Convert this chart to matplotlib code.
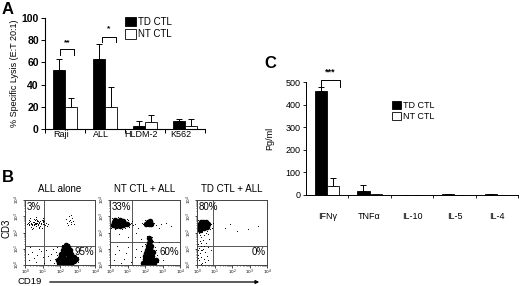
import numpy as np
import matplotlib
matplotlib.use('Agg')
import matplotlib.pyplot as plt
from matplotlib.patches import Patch, FancyArrowPatch

plt.rcParams['font.family'] = ['Liberation Sans', 'DejaVu Sans']

# ---- panel A data ----
a_cats = ['Raji', 'ALL', 'HLDM-2', 'K562']
a_td = [53, 63, 3, 7]
a_td_err = [10, 14, 4, 2]
a_nt = [20, 20, 6, 3]
a_nt_err = [8, 18, 7, 6]

# ---- panel C data ----
c_cats = ['IFN\u03b3', 'TNF\u03b1', 'IL-10', 'IL-5', 'IL-4']
c_td = [458, 18, 2, 5, 3]
c_td_err = [20, 27, 0, 0, 0]
c_nt = [42, 3, 1, 2, 2]
c_nt_err = [33, 0, 0, 0, 0]

# ---- panel B data (log10 decades) ----
b_titles = ['ALL alone', 'NT CTL + ALL', 'TD CTL + ALL']
b_quad = [(1.1, 1.2), (1.25, 1.4), (0.9, 1.2)]
b_pct_ul = ['3%', '33%', '80%']
b_pct_lr = ['95%', '60%', '0%']

b1_core = [(2.0, 0.2), (2.2, 0.15), (2.4, 0.15), (2.6, 0.2), (2.8, 0.25), (2.0, 0.45),
           (2.2, 0.4), (2.4, 0.4), (2.6, 0.45), (2.8, 0.5), (2.05, 0.7), (2.25, 0.65),
           (2.45, 0.65), (2.65, 0.7), (2.15, 0.9), (2.35, 0.9), (2.55, 0.9), (2.25, 1.1),
           (2.45, 1.1), (1.9, 0.3), (2.9, 0.35), (2.3, 0.05), (2.6, 0.05), (2.1, 0.55),
           (2.5, 0.55), (2.7, 0.35), (2.3, 0.28), (2.35, 1.25), (1.95, 0.1)]
b1_dust = [(0.15, 2.6), (0.25, 2.5), (0.3, 2.7), (0.4, 2.55), (0.45, 2.65), (0.5, 2.45),
           (0.55, 2.75), (0.6, 2.6), (0.65, 2.5), (0.7, 2.7), (0.75, 2.55), (0.8, 2.65),
           (0.85, 2.4), (0.9, 2.6), (0.95, 2.75), (1.0, 2.5), (1.05, 2.65), (1.1, 2.55),
           (1.2, 2.6), (1.3, 2.5), (0.2, 2.8), (0.35, 2.35), (0.5, 2.85), (0.6, 2.4),
           (0.7, 2.8), (0.8, 2.35), (0.9, 2.5), (1.0, 2.7), (1.15, 2.45), (0.3, 2.9),
           (0.45, 2.3), (0.55, 2.6), (0.65, 2.85), (0.75, 2.45), (0.85, 2.7), (0.95, 2.3),
           (1.05, 2.8), (0.4, 2.2), (0.6, 2.95), (0.8, 2.25), (1.0, 2.9), (0.25, 2.45),
           (0.5, 2.65), (0.7, 2.6), (0.9, 2.6), (1.1, 2.7), (1.25, 2.4), (0.35, 2.55),
           (0.55, 2.5), (0.75, 2.7), (0.12, 2.55), (0.22, 2.62), (0.42, 2.48),
           (0.32, 2.58), (0.62, 2.52), (0.72, 2.48), (0.82, 2.58), (0.52, 2.55),
           (2.4, 2.6), (2.55, 2.8), (2.6, 2.5), (2.7, 2.9), (2.5, 3.0), (2.65, 2.65),
           (2.45, 2.45), (2.75, 2.7), (2.35, 2.85), (2.8, 2.55), (2.6, 3.1), (2.5, 2.7),
           (0.2, 0.3), (0.4, 0.8), (0.6, 0.2), (0.8, 1.0), (1.0, 0.5), (1.2, 0.9),
           (1.4, 0.3), (0.3, 1.1), (0.7, 0.6), (1.1, 0.15), (1.5, 0.7), (0.5, 0.45),
           (0.9, 0.85), (1.3, 0.55), (1.6, 1.0), (0.15, 0.7), (1.7, 0.4), (1.75, 0.8),
           (1.8, 1.1), (1.65, 0.15), (2.95, 0.8), (3.0, 0.2), (2.7, 1.0), (2.1, 1.25),
           (1.85, 0.6), (2.5, 1.3), (3.05, 0.5)]
b2_core = [(0.15, 2.45), (0.35, 2.4), (0.55, 2.4), (0.75, 2.45), (0.95, 2.5), (0.2, 2.65),
           (0.4, 2.6), (0.6, 2.6), (0.8, 2.6), (0.3, 2.75), (0.55, 2.78), (0.75, 2.72),
           (0.45, 2.5), (0.65, 2.5), (0.25, 2.55), (2.05, 2.55), (2.2, 2.5), (2.35, 2.55),
           (2.15, 2.65), (2.3, 2.68), (1.9, 0.15), (2.1, 0.1), (2.3, 0.15), (2.5, 0.15),
           (2.0, 0.35), (2.2, 0.35), (2.4, 0.35), (2.6, 0.3), (2.0, 0.55), (2.2, 0.55),
           (2.4, 0.55), (2.05, 0.75), (2.25, 0.75), (2.45, 0.8), (2.1, 0.95), (2.3, 1.0),
           (2.15, 1.15), (2.35, 1.2), (2.2, 1.35), (2.3, 1.5), (2.25, 1.65)]
b2_dust = [(0.05, 2.3), (1.1, 2.35), (1.2, 2.6), (1.05, 2.8), (0.1, 2.9), (0.45, 2.95),
           (0.85, 2.25), (1.15, 2.5), (0.7, 2.2), (1.3, 2.45), (1.25, 2.7), (0.95, 2.85),
           (0.3, 2.2), (1.4, 2.55), (0.6, 2.9), (1.9, 2.5), (2.5, 2.6), (2.4, 2.4),
           (2.0, 2.75), (2.6, 2.45), (1.8, 2.6), (3.2, 2.6), (3.5, 2.4), (2.8, 2.3),
           (1.75, 1.6), (2.45, 1.5), (2.1, 1.8), (2.4, 1.75), (1.8, 1.2), (2.55, 1.1),
           (1.7, 0.5), (2.7, 0.6), (2.75, 0.2), (1.75, 0.85), (2.6, 0.95), (2.0, 1.3),
           (0.2, 0.3), (0.5, 0.9), (0.8, 0.4), (1.0, 1.1), (0.3, 0.7), (1.2, 0.2),
           (0.6, 0.15), (0.9, 0.75), (1.4, 0.5), (0.4, 1.2), (1.5, 1.0), (2.9, 2.5),
           (1.6, 2.3), (1.5, 2.0), (1.0, 1.7), (0.5, 1.9), (2.8, 1.4), (3.0, 0.3)]
b3_core = [(0.1, 2.3), (0.25, 2.25), (0.4, 2.3), (0.55, 2.35), (0.15, 2.5), (0.3, 2.45),
           (0.45, 2.5), (0.6, 2.5), (0.2, 2.65), (0.35, 2.65), (0.5, 2.62), (0.15, 2.15),
           (0.1, 2.42), (0.38, 2.38)]
b3_dust = [(0.7, 2.4), (0.75, 2.2), (0.65, 2.65), (0.8, 2.55), (0.05, 2.75), (0.45, 2.8),
           (0.3, 2.05), (0.55, 2.1), (0.85, 2.3), (0.1, 1.95), (0.4, 1.85), (0.2, 1.7),
           (0.6, 1.9), (0.15, 1.5), (0.35, 1.55), (0.5, 1.35), (0.05, 1.3), (0.25, 1.2),
           (0.7, 1.6), (0.1, 1.05), (0.3, 0.9), (0.15, 0.75), (0.45, 0.8), (0.05, 0.6),
           (0.25, 0.5), (0.4, 0.35), (0.1, 0.3), (0.3, 0.15), (0.55, 0.55), (0.2, 0.05),
           (0.6, 1.1), (0.35, 1.0), (0.2, 0.95), (0.45, 0.2), (0.05, 0.45), (0.65, 0.3),
           (0.8, 0.9), (0.15, 1.85), (0.5, 2.0), (0.9, 2.6), (1.6, 2.3), (2.3, 2.1),
           (1.9, 2.5), (2.9, 2.2), (3.5, 2.4), (0.25, 1.35), (0.4, 1.15), (0.05, 0.9)]
b_core = [b1_core, b2_core, b3_core]
b_dust = [b1_dust, b2_dust, b3_dust]

W, H = 520, 286
fig = plt.figure(figsize=(5.2, 2.86), dpi=100)


def frac(x0, y0, x1, y1):
    # pixel box (top-left origin) -> figure fraction rect
    return [x0 / W, 1 - y1 / H, (x1 - x0) / W, (y1 - y0) / H]


def bracket(ax, x0, x1, y, ydrop, txt, ty, fs):
    ax.plot([x0, x0, x1, x1], [y - ydrop, y, y, y - ydrop], color='black', lw=0.7,
            clip_on=False)
    ax.text((x0 + x1) / 2, ty, txt, ha='center', va='center', fontsize=fs,
            fontweight='bold', clip_on=False)


# ---------------- panel A ----------------
axA = fig.add_axes(frac(45, 18, 205, 129))
bw = 0.3
xa = np.arange(4) + 0.5
axA.bar(xa - bw / 2, a_td, bw, color='black', edgecolor='black', lw=0.6, zorder=2)
axA.bar(xa + bw / 2, a_nt, bw, color='white', edgecolor='black', lw=0.6, zorder=2)
axA.errorbar(xa - bw / 2, a_td, yerr=[np.zeros(4), a_td_err], fmt='none', ecolor='black',
             elinewidth=0.7, capsize=2, capthick=0.7, zorder=1)
axA.errorbar(xa + bw / 2, a_nt, yerr=[np.zeros(4), a_nt_err], fmt='none', ecolor='black',
             elinewidth=0.7, capsize=2, capthick=0.7, zorder=1)
axA.set_xlim(0, 4)
axA.set_ylim(0, 100)
axA.set_yticks([0, 20, 40, 60, 80, 100])
axA.set_xticks(xa - 0.1)
axA.set_xticklabels(a_cats, fontsize=6.5)
axA.set_xticks([0, 1, 2, 3, 4], minor=True)
axA.tick_params(axis='x', which='major', length=0, pad=1)
axA.tick_params(axis='x', which='minor', length=3, width=0.7, direction='out')
axA.tick_params(axis='y', length=3, width=0.7, labelsize=7.5, pad=1.5)
for lab in axA.get_yticklabels():
    lab.set_fontweight('bold')
for s in ['top', 'right']:
    axA.spines[s].set_visible(False)
for s in ['left', 'bottom']:
    axA.spines[s].set_linewidth(0.8)
axA.set_ylabel('% Specific Lysis (E:T 20:1)', fontsize=6.5, labelpad=2)

bracket(axA, xa[0] - 0.12, xa[0] + 0.22, 72, 5, '**', 78, 6)
bracket(axA, xa[1] - 0.07, xa[1] + 0.27, 83, 5, '*', 90, 6)

fig.legend(handles=[Patch(facecolor='black', edgecolor='black', lw=0.6, label='TD CTL'),
                    Patch(facecolor='white', edgecolor='black', lw=0.6, label='NT CTL')],
           loc='upper left', bbox_to_anchor=(120 / W, 1 - 12 / H), frameon=False,
           fontsize=7, handlelength=1.1, handleheight=1.1, handletextpad=0.3,
           labelspacing=0.25, borderpad=0)

fig.text(2 / W, 1 - 10 / H, 'A', fontsize=12, fontweight='bold', va='center')

# ---------------- panel B ----------------
fig.text(2 / W, 1 - 177 / H, 'B', fontsize=12, fontweight='bold', va='center')
b_left = [25, 110, 197]
minor_t = [k + np.log10(m) for k in range(4) for m in range(2, 10)]
for i in range(3):
    ax = fig.add_axes(frac(b_left[i], 200, b_left[i] + 70, 265))
    core = np.array(b_core[i])
    dust = np.array(b_dust[i])
    ax.scatter(dust[:, 0], dust[:, 1], s=0.5, color='black', lw=0, zorder=2)
    ax.scatter(core[:, 0], core[:, 1], s=16, color='black', lw=0, zorder=2)
    qx, qy = b_quad[i]
    ax.axvline(qx, color='#555555', lw=0.7, zorder=1)
    ax.axhline(qy, color='#555555', lw=0.7, zorder=1)
    ax.set_xlim(0, 4)
    ax.set_ylim(0, 4)
    ticks = [0, 1, 2, 3, 4]
    tl = ['$10^%d$' % t for t in ticks]
    ax.set_xticks(ticks)
    ax.set_yticks(ticks)
    ax.set_xticklabels(tl, fontsize=3)
    ax.set_yticklabels(tl, fontsize=3, rotation=90, va='center')
    ax.set_xticks(minor_t, minor=True)
    ax.set_yticks(minor_t, minor=True)
    ax.tick_params(which='major', length=1.8, width=0.5, pad=0.5)
    ax.tick_params(which='minor', length=1, width=0.4)
    for s in ax.spines.values():
        s.set_linewidth(0.7)
        s.set_color('#444444')
    ax.set_title(b_titles[i], fontsize=7, pad=6)
    ax.text(0.12, 3.55, b_pct_ul[i], fontsize=7, va='center', ha='left')
    ax.text(3.95, 0.8, b_pct_lr[i], fontsize=7, va='center', ha='right')

fig.text(7 / W, 1 - 228 / H, 'CD3', fontsize=7, rotation=90, va='center', ha='center')
fig.text(17 / W, 1 - 282 / H, 'CD19', fontsize=6.8, va='center', ha='left')
fig.add_artist(FancyArrowPatch(
    (47 / W, 1 - 282 / H), (262 / W, 1 - 282 / H), transform=fig.transFigure,
    arrowstyle='-|>', mutation_scale=5, lw=0.9, color='black'))

# ---------------- panel C ----------------
axC = fig.add_axes(frac(306, 82, 518, 195))
xc = np.arange(5) + 0.5
bwc = 0.29
axC.bar(xc - bwc / 2, c_td, bwc, color='black', edgecolor='black', lw=0.6, zorder=2)
axC.bar(xc + bwc / 2, c_nt, bwc, color='white', edgecolor='black', lw=0.6, zorder=2)
axC.errorbar(xc - bwc / 2, c_td, yerr=[np.zeros(5), c_td_err], fmt='none', ecolor='black',
             elinewidth=0.7, capsize=2, capthick=0.7, zorder=1)
axC.errorbar(xc + bwc / 2, c_nt, yerr=[np.zeros(5), c_nt_err], fmt='none', ecolor='black',
             elinewidth=0.7, capsize=2, capthick=0.7, zorder=1)
axC.set_xlim(0, 5)
axC.set_ylim(0, 500)
axC.set_yticks([0, 100, 200, 300, 400, 500])
axC.set_xticks(xc)
axC.set_xticklabels(c_cats, fontsize=6.5)
axC.set_xticks([1, 2, 3, 4, 5], minor=True)
axC.tick_params(axis='x', which='major', length=0, pad=12)
axC.tick_params(axis='x', which='minor', length=2.5, width=0.6, direction='out')
axC.tick_params(axis='y', length=2.5, width=0.6, labelsize=6.5, pad=1.5)
for s in ['top', 'right']:
    axC.spines[s].set_visible(False)
for s in ['left', 'bottom']:
    axC.spines[s].set_linewidth(0.7)
axC.set_ylabel('Pg/ml', fontsize=6.5, labelpad=8)
bracket(axC, xc[0] - bwc / 2, xc[0] + bwc * 1.05, 509, 30, '***', 545, 6.5)

fig.legend(handles=[Patch(facecolor='black', edgecolor='black', lw=0.6, label='TD CTL'),
                    Patch(facecolor='white', edgecolor='black', lw=0.6, label='NT CTL')],
           loc='upper left', bbox_to_anchor=(387 / W, 1 - 96 / H), frameon=False,
           fontsize=6.5, handlelength=1.0, handleheight=1.0, handletextpad=0.3,
           labelspacing=0.25, borderpad=0)

fig.text(264 / W, 1 - 63 / H, 'C', fontsize=12, fontweight='bold', va='center')

fig.savefig('out.png', dpi=100)
